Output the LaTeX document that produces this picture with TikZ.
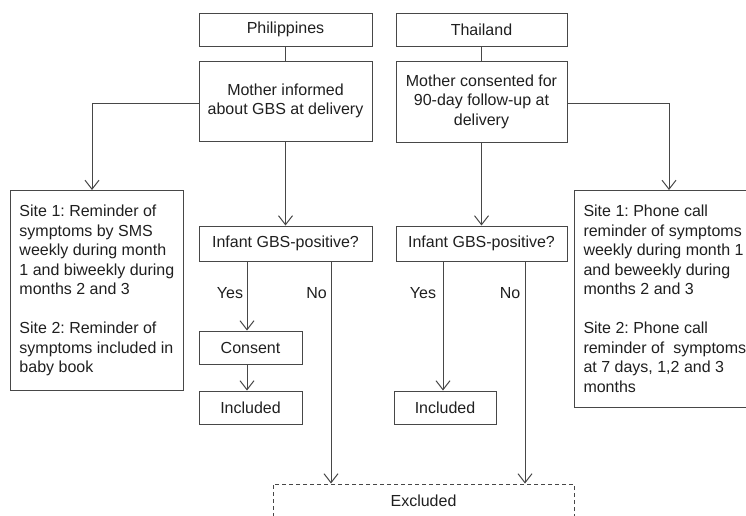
\documentclass[tikz,border=0pt]{standalone}
\usepackage{fontspec}
\setmainfont{Liberation Sans}
\usetikzlibrary{arrows.meta}
\definecolor{linec}{HTML}{474747}
\definecolor{textc}{HTML}{1F1F1F}
\begin{document}
\begin{tikzpicture}[x=1pt,y=-1pt,
  every node/.style={font=\fontsize{16}{19.5}\selectfont\frenchspacing, text=textc},
  box/.style={draw=linec, line width=1pt, inner sep=0pt, align=center},
  sidebox/.style={draw=linec, line width=1pt, inner xsep=9pt, inner ysep=0pt, align=left, anchor=north west},
  exclbox/.style={draw=linec, line width=1pt, dash pattern=on 4pt off 3pt, inner sep=0pt},
  conn/.style={draw=linec, line width=1pt},
  arr/.style={conn, -{Straight Barb[length=9pt,width=14pt]}},
  lbl/.style={inner sep=0pt}]
\useasboundingbox (0,0) rectangle (746,515);
% Philippines column
\node[box, minimum width=173pt, minimum height=33pt] (phil) at (285.5,29.5) {Philippines};
\node[box, minimum width=173pt, minimum height=80pt] (mphil) at (285.5,101) {Mother informed\\about GBS at delivery};
\node[sidebox, minimum height=200pt] (siteL) at (10,190)
  {Site 1: Reminder of\\symptoms by SMS\\weekly during month\\1 and biweekly during\\months 2 and 3\\[19.5pt]Site 2: Reminder of\\symptoms included in\\baby book};
\node[box, minimum width=173pt, minimum height=35pt] (infL) at (285.5,243.5) {Infant GBS-positive?};
\node[box, minimum width=103pt, minimum height=33pt] (cons) at (250.5,347.5) {Consent};
\node[box, minimum width=103pt, minimum height=33pt] (inclL) at (250.5,407.5) {Included};
% Thailand column
\node[box, minimum width=171pt, minimum height=33pt] (thai) at (481.5,29.5) {Thailand};
\node[box, minimum width=171pt, minimum height=81pt] (mthai) at (481.5,101.5) {Mother consented for\\90-day follow-up at\\delivery};
\node[sidebox, minimum height=217pt] (siteR) at (574,190)
  {Site 1: Phone call\\reminder of symptoms\\weekly during month 1\\and beweekly during\\months 2 and 3\\[19.5pt]Site 2: Phone call\\reminder of\ \ symptoms\\at 7 days, 1,2 and 3\\months};
\node[box, minimum width=171pt, minimum height=35pt] (infR) at (481.5,243.5) {Infant GBS-positive?};
\node[box, minimum width=102pt, minimum height=33pt] (inclR) at (445,407.5) {Included};
% Excluded
\node[exclbox, minimum width=301pt, minimum height=34pt] (excl) at (423.5,501) {Excluded};
% labels
\node[lbl] (yesL) at (230,293) {Yes};
\node[lbl] (noL) at (316.5,293) {No};
\node[lbl] (yesR) at (423,293) {Yes};
\node[lbl] (noR) at (510,293) {No};
% helper coordinates
\coordinate (kL) at (92,103);
\coordinate (kR) at (669,103);
\coordinate (xYL) at (247,0);
\coordinate (xNL) at (331,0);
\coordinate (xYR) at (443,0);
\coordinate (xNR) at (525,0);
% connectors
\draw[conn] (phil) -- (mphil);
\draw[conn] (thai) -- (mthai);
\draw[arr] (mphil.west |- kL) -| (kL |- siteL.north);
\draw[arr] (mthai.east |- kR) -| (kR |- siteR.north);
\draw[arr] (mphil.south) -- (infL.north);
\draw[arr] (mthai.south) -- (infR.north);
\draw[arr] (infL.south -| xYL) -- (cons.north -| xYL);
\draw[arr] (cons.south -| xYL) -- (inclL.north -| xYL);
\draw[arr] (infL.south -| xNL) -- (excl.north -| xNL);
\draw[arr] (infR.south -| xYR) -- (inclR.north -| xYR);
\draw[arr] (infR.south -| xNR) -- (excl.north -| xNR);
\end{tikzpicture}
\end{document}
